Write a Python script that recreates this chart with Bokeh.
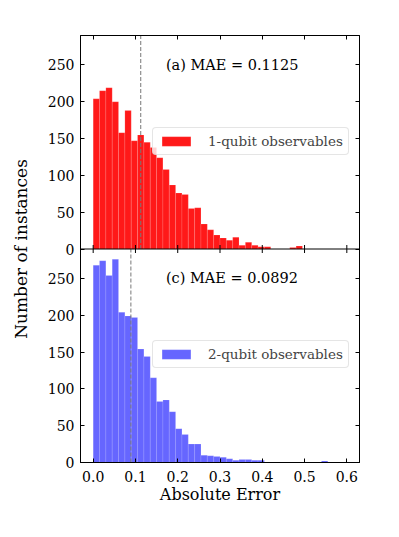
import math
from bokeh.plotting import figure
from bokeh.models import (Range1d, LinearAxis, FixedTicker, PrintfTickFormatter,
                          CustomJSTickFormatter, Span, Label, Legend, LegendItem,
                          ColumnDataSource)
from bokeh.embed import file_html
from bokeh.resources import INLINE

# ---------------- data ----------------
bin_width = 0.015
n_bins = 40
counts_1q = [204, 215, 219, 200, 158, 188, 147, 155, 145, 138,
             124, 108, 87, 76, 74, 55, 56, 34, 26, 19,
             15, 12, 16, 5, 9, 5, 3, 3, 0, 0,
             0, 2, 4, 0, 0, 0, 0, 0, 0, 0]
counts_2q = [268, 274, 254, 276, 204, 199, 197, 154, 144, 115,
             83, 85, 69, 46, 38, 25, 25, 10, 9, 8,
             7, 5, 3, 4, 4, 3, 3, 0, 0, 0,
             0, 0, 0, 0, 0, 0, 2, 0, 0, 0]
mae_values = [0.1125, 0.0892]
panel_tags = ["(a)", "(c)"]
legend_labels = ["1-qubit observables", "2-qubit observables"]
x_ticks = [0.0, 0.1, 0.2, 0.3, 0.4, 0.5, 0.6]
y_ticks = [0, 50, 100, 150, 200, 250]
y_max = 290  # per-panel y limit

FONT = "DejaVu Serif"
edges = [i * bin_width for i in range(n_bins + 1)]

# One frame holding both stacked panels: the lower panel uses the default
# y range (its 0..y_max is the lower half), the upper panel has its own range.
p = figure(frame_width=279, frame_height=427,
           x_range=Range1d(-0.03, 0.63), y_range=Range1d(0, 2 * y_max),
           output_backend="svg", toolbar_location=None,
           min_border_left=80, min_border_right=8,
           min_border_top=35, min_border_bottom=10)
p.extra_y_ranges = {"top": Range1d(-y_max, y_max)}
p.xgrid.visible = False
p.ygrid.visible = False
p.outline_line_color = "black"
p.outline_line_width = 1
p.background_fill_color = "white"

src_top = ColumnDataSource(dict(left=edges[:-1], right=edges[1:], top=counts_1q))
src_bot = ColumnDataSource(dict(left=edges[:-1], right=edges[1:], top=counts_2q))
r_top = p.quad(left="left", right="right", top="top", bottom=0, source=src_top,
               y_range_name="top", fill_color="red", fill_alpha=0.9,
               line_color="white", line_alpha=0.25, line_width=0.5)
r_bot = p.quad(left="left", right="right", top="top", bottom=0, source=src_bot,
               fill_color="blue", fill_alpha=0.6,
               line_color="white", line_alpha=0.25, line_width=0.5)

# MAE dashed lines, each limited to its own panel
p.segment(x0=[mae_values[0]], y0=[0], x1=[mae_values[0]], y1=[y_max],
          y_range_name="top", line_color="#777777", line_dash="4 2", line_width=1)
p.segment(x0=[mae_values[1]], y0=[0], x1=[mae_values[1]], y1=[y_max],
          line_color="#777777", line_dash="4 2", line_width=1)

# boundary between the two panels, with inward ticks on both sides
p.add_layout(Span(location=y_max, dimension="width", line_color="black", line_width=1))
p.scatter(x=x_ticks, y=[y_max] * len(x_ticks), marker="dash", angle=math.pi / 2,
          size=8, line_color="black", line_width=1)

# ---------------- axes ----------------
y_positions = y_ticks + [y_max + t for t in y_ticks]
y_overrides = {y_max + t: str(t) for t in y_ticks}


def style_axis(ax, show_labels):
    ax.major_tick_in = 4
    ax.major_tick_out = 0
    ax.minor_tick_in = 0
    ax.minor_tick_out = 0
    ax.axis_line_color = "black"
    ax.axis_line_width = 1
    ax.major_tick_line_color = "black"
    ax.major_tick_line_width = 1
    ax.major_label_text_font = FONT
    ax.major_label_text_color = "black"
    if show_labels:
        ax.major_label_text_font_size = "14px"
    else:
        ax.major_label_text_font_size = "1px"
        ax.major_label_standoff = 0
        ax.formatter = CustomJSTickFormatter(code="return '';")


bottom_ax = p.below[0]
bottom_ax.ticker = FixedTicker(ticks=x_ticks)
bottom_ax.formatter = PrintfTickFormatter(format="%.1f")
style_axis(bottom_ax, True)
bottom_ax.major_label_standoff = 8
bottom_ax.axis_label = "Absolute Error"
bottom_ax.axis_label_text_font = FONT
bottom_ax.axis_label_text_font_size = "16px"
bottom_ax.axis_label_text_font_style = "normal"
bottom_ax.axis_label_text_color = "black"
bottom_ax.axis_label_standoff = 0

left_ax = p.left[0]
left_ax.ticker = FixedTicker(ticks=y_positions)
left_ax.major_label_overrides = y_overrides
style_axis(left_ax, True)
left_ax.major_label_standoff = 6
left_ax.axis_label = "Number of instances"
left_ax.axis_label_text_font = FONT
left_ax.axis_label_text_font_size = "17px"
left_ax.axis_label_text_font_style = "normal"
left_ax.axis_label_text_color = "black"
left_ax.axis_label_standoff = 14

top_ax = LinearAxis(ticker=FixedTicker(ticks=x_ticks))
style_axis(top_ax, False)
p.add_layout(top_ax, "above")
right_ax = LinearAxis(ticker=FixedTicker(ticks=y_positions))
style_axis(right_ax, False)
p.add_layout(right_ax, "right")

# ---------------- annotations ----------------
p.add_layout(Label(x=0.172, y=250, y_range_name="top",
                   text=f"{panel_tags[0]} MAE = {mae_values[0]:.4f}",
                   text_font=FONT, text_font_size="14.5px",
                   text_baseline="alphabetic", text_color="black"))
p.add_layout(Label(x=0.172, y=250,
                   text=f"{panel_tags[1]} MAE = {mae_values[1]:.4f}",
                   text_font=FONT, text_font_size="14.5px",
                   text_baseline="alphabetic", text_color="black"))


def make_legend(label, renderer, loc):
    leg = Legend(items=[LegendItem(label=label, renderers=[renderer])],
                 location=loc, glyph_width=36, glyph_height=12,
                 label_standoff=14, padding=5, spacing=0, margin=0,
                 label_text_font=FONT, label_text_font_size="13.5px",
                 border_line_color="#cccccc", border_line_width=1,
                 background_fill_alpha=0.8)
    if "border_radius" in Legend.properties():
        leg.border_radius = 4
    return leg


p.add_layout(make_legend(legend_labels[0], r_top, (72, 307)))
p.add_layout(make_legend(legend_labels[1], r_bot, (72, 94)))

open("out.html", "w").write(file_html(p, INLINE))
